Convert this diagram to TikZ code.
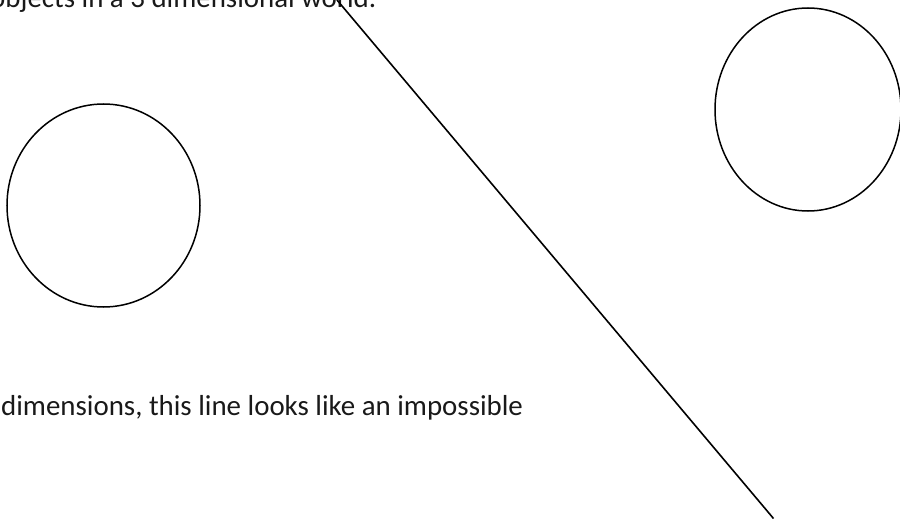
\documentclass[tikz,border=0pt]{standalone}
\usepackage{fontspec}
\setmainfont{Carlito}
\begin{document}
\begin{tikzpicture}[x=1pt,y=-1pt,
  outl/.style={draw=black,line width=1.5pt},
  txt/.style={anchor=base west,inner sep=0pt,font=\fontsize{28.9}{34}\selectfont,text=black!90}]
\useasboundingbox (0,0) rectangle (900,519);
\clip (0,0) rectangle (900,519);
\node[txt] (t1) at (-10,8) {objects in a 3 dimensional world.};
\node[txt] (t2) at (1,415) {dimensions, this line looks like an impossible};
\draw[outl] (103.5,205.5) ellipse [x radius=96.5, y radius=101.5];
\draw[outl] (808,109.5) ellipse [x radius=93, y radius=101.5];
\coordinate (a) at (337,0);
\coordinate (b) at (773.5,518.5);
\draw[outl,line width=1.6pt] (a) -- (b);
\end{tikzpicture}
\end{document}
